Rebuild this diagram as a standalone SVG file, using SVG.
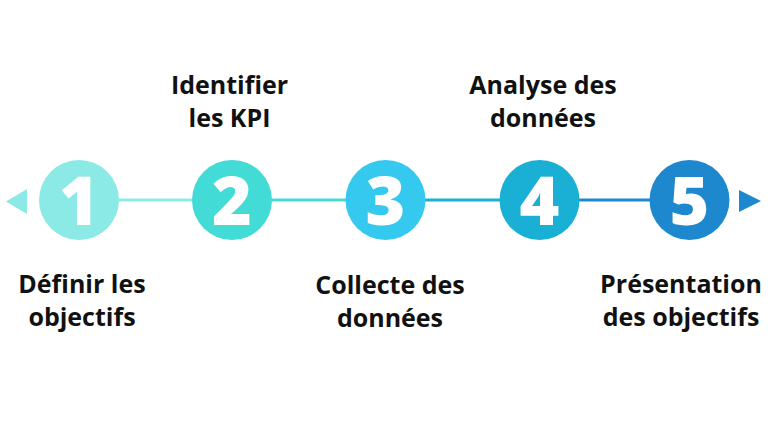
<svg xmlns="http://www.w3.org/2000/svg" width="768" height="432" viewBox="0 0 768 432">
<style>
.num{font-family:"Open Sans","Liberation Sans",sans-serif;font-weight:800;font-size:68px;fill:#fff;text-anchor:middle}
.lbl{font-family:"Open Sans","Liberation Sans",sans-serif;font-weight:700;font-size:25px;fill:#111;text-anchor:middle}
.seg{stroke-width:3;fill:none}
</style>
<rect width="768" height="432" fill="#fff"/>
<g id="connectors">
<polygon points="27,189 6,201.5 27,214" fill="#8BE9E6"/>
<line class="seg" x1="118" y1="200" x2="193" y2="200" stroke="#8BE9E6"/>
<line class="seg" x1="271" y1="200" x2="346" y2="200" stroke="#43DBD6"/>
<line class="seg" x1="424" y1="200" x2="500" y2="200" stroke="#1AB0D6"/>
<line class="seg" x1="578" y1="200" x2="650" y2="200" stroke="#1E88CE"/>
<polygon points="739,190 761,201 739,212" fill="#1E88CE"/>
</g>
<g id="node1">
<circle cx="79" cy="200" r="40" fill="#8BE9E6"/>
<text class="num" x="79" y="225">1</text>
<text class="lbl" x="82" y="293">Définir les</text>
<text class="lbl" x="82" y="326">objectifs</text>
</g>
<g id="node2">
<circle cx="232" cy="200" r="40" fill="#43DBD6"/>
<text class="num" x="232" y="225">2</text>
<text class="lbl" x="229.5" y="94">Identifier</text>
<text class="lbl" x="229.5" y="127">les KPI</text>
</g>
<g id="node3">
<circle cx="385.5" cy="200" r="40" fill="#36C9EF"/>
<text class="num" x="385.5" y="225">3</text>
<text class="lbl" x="390" y="294">Collecte des</text>
<text class="lbl" x="390" y="327">données</text>
</g>
<g id="node4">
<circle cx="539.5" cy="200" r="40" fill="#1AB0D6"/>
<text class="num" x="539.5" y="225">4</text>
<text class="lbl" x="543" y="94">Analyse des</text>
<text class="lbl" x="543" y="127">données</text>
</g>
<g id="node5">
<circle cx="689.5" cy="200" r="40" fill="#1E88CE"/>
<text class="num" x="689.5" y="225">5</text>
<text class="lbl" x="681" y="293">Présentation</text>
<text class="lbl" x="681" y="326">des objectifs</text>
</g>
</svg>
